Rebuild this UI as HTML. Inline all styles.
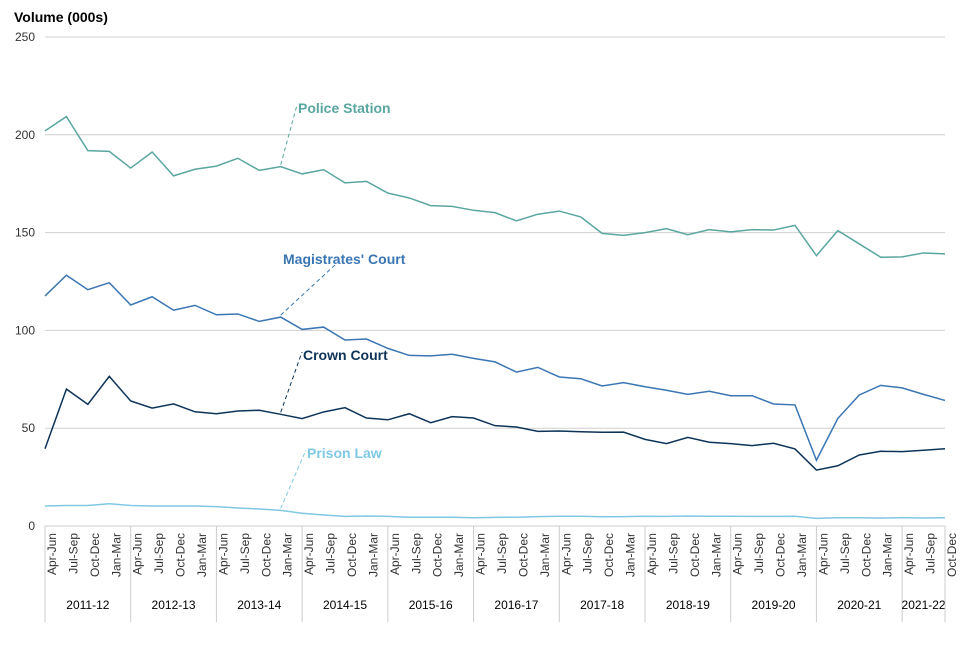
<!DOCTYPE html>
<html><head><meta charset="utf-8"><style>
body{margin:0;background:#fff;font-family:"Liberation Sans",sans-serif}
</style></head><body>
<svg id="chart" width="960" height="640" viewBox="0 0 960 640" xmlns="http://www.w3.org/2000/svg" font-family="Liberation Sans, sans-serif">
<text x="14" y="22" font-size="14" font-weight="bold" fill="#000">Volume (000s)</text>
<g id="grid"></g><g id="xaxis"></g><g id="series"></g><g id="labels"></g>
</svg>
<script>
const quarters=["Apr-Jun","Jul-Sep","Oct-Dec","Jan-Mar"];
const years=["2011-12","2012-13","2013-14","2014-15","2015-16","2016-17","2017-18","2018-19","2019-20","2020-21","2021-22"];
const yTicks=[0,50,100,150,200,250];
const police=[202,209.3,191.9,191.5,183,191.2,179,182.4,184,188,181.8,183.7,180,182.2,175.4,176.2,170.2,167.7,163.8,163.4,161.4,160.2,156,159.4,161,158,149.6,148.6,150,152,148.9,151.5,150.4,151.5,151.3,153.7,138.2,151,144.2,137.4,137.6,139.6,139.1];
const magistrates=[117.6,128.2,120.8,124.4,113,117.2,110.3,112.8,108,108.4,104.6,106.8,100.5,101.7,95.1,95.6,90.8,87.2,87,87.8,85.7,83.9,78.7,81.1,76.2,75.3,71.6,73.3,71.2,69.4,67.3,68.9,66.6,66.6,62.4,61.9,33.6,55,67,71.9,70.6,67.3,64.2];
const crown=[39.5,70,62.2,76.5,63.9,60.3,62.4,58.4,57.4,58.8,59.2,57.1,54.9,58.3,60.5,55.2,54.3,57.4,52.8,55.9,55.2,51.3,50.6,48.4,48.6,48.2,47.9,48,44.3,42.1,45.3,42.8,42.1,41.1,42.3,39.4,28.6,30.8,36.3,38.2,38,38.7,39.5];
const prison=[10.2,10.5,10.5,11.4,10.5,10.2,10.2,10.2,9.9,9.2,8.7,8,6.5,5.6,4.9,5.1,4.9,4.5,4.5,4.5,4.2,4.4,4.5,4.8,5,5,4.7,4.8,5,4.9,5.1,5,5,4.9,4.9,5,3.9,4.2,4.2,4,4.3,4.1,4.2];
const NS="http://www.w3.org/2000/svg";
const n=police.length;
const X0=45,X1=945,Y0=526,Y1=37;
const x=i=>X0+(X1-X0)*i/(n-1);
const y=v=>Y0-(Y0-Y1)*v/250;
function el(t,a,p){const e=document.createElementNS(NS,t);for(const k in a)e.setAttribute(k,a[k]);p.appendChild(e);return e;}
const grid=document.getElementById('grid');
yTicks.forEach(v=>{
  const l=el('line',{x1:X0,x2:X1,y1:y(v),y2:y(v),stroke:v===0?'#ccc':'#d0d0d0','stroke-width':1},grid);
  
  
  const t=el('text',{x:35,y:y(v)+4,'text-anchor':'end','font-size':12,fill:'#333'},grid);
  t.textContent=v;
  
  
});
const xa=document.getElementById('xaxis');
for(let i=0;i<n;i++){
  const t=el('text',{transform:`translate(${x(i)+11},533) rotate(-90)`,'text-anchor':'end','font-size':12,fill:'#333'},xa);
  t.textContent=quarters[i%4];
  
  
}
years.forEach((yr,k)=>{
  const a=x(k*4),b=Math.min(x(k*4+4),X1);
  const l=el('line',{x1:a,x2:a,y1:526,y2:622,stroke:'#ccc'},xa);
  
  
  const t=el('text',{x:(a+b)/2,y:609,'text-anchor':'middle','font-size':12,fill:'#000'},xa);
  t.textContent=yr;
  
  
});
const endL=el('line',{x1:X1,x2:X1,y1:526,y2:622,stroke:'#ccc'},xa);


const ser=document.getElementById('series');
const defs=[["police-station-line",police,"#5aa6a0"],["magistrates-court-line",magistrates,"#3b76b3"],["crown-court-line",crown,"#0d3358"],["prison-law-line",prison,"#7fc9e4"]];
defs.forEach(([nm,d,c])=>{
  const p=el('polyline',{points:d.map((v,i)=>x(i)+','+y(v)).join(' '),fill:'none',stroke:c,'stroke-width':1.5},ser);
  
  
});
const lab=document.getElementById('labels');
const anns=[["police-station-label","Police Station",police,"#5aa6a0",298,113,105],["magistrates-court-label","Magistrates' Court",magistrates,"#3b76b3",283,264,265],["crown-court-label","Crown Court",crown,"#0d3358",303,360,352],["prison-law-label","Prison Law",prison,"#7fc9e4",307,458,450]];
anns.forEach(([nm,txt,d,c,tx,ty,ly])=>{
  const i=11;
  const lx=nm==="magistrates-court-label"?335:tx-1;
  const l=el('line',{x1:x(i),y1:y(d[i])-2,x2:lx,y2:ly,stroke:c,'stroke-dasharray':'4,3','stroke-width':1},lab);
  
  
  const t=el('text',{x:tx,y:ty,'font-size':14,'font-weight':'bold',fill:c},lab);
  t.textContent=txt;
  
  
});
</script>
</body></html>
